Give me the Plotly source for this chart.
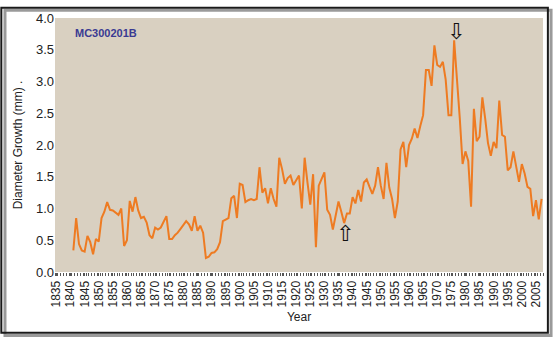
import plotly.graph_objects as go

# Annual diameter growth series for core MC300201B
years = list(range(1841, 2008))
growth_mm = [
    0.34, 0.85, 0.44, 0.34, 0.32, 0.57, 0.47, 0.28, 0.52, 0.48,   # 1841-1850
    0.85, 0.95, 1.10, 0.98, 0.97, 0.93, 0.90, 1.00, 0.41, 0.50,   # 1851-1860
    1.12, 0.95, 1.18, 0.97, 0.85, 0.87, 0.78, 0.58, 0.53, 0.70,   # 1861-1870
    0.67, 0.70, 0.80, 0.88, 0.52, 0.52, 0.58, 0.62, 0.68, 0.75,   # 1871-1880
    0.80, 0.75, 0.65, 0.88, 0.65, 0.73, 0.62, 0.22, 0.24, 0.30,   # 1881-1890
    0.31, 0.36, 0.47, 0.80, 0.83, 0.85, 1.16, 1.20, 0.85, 1.39,   # 1891-1900
    1.37, 1.10, 1.13, 1.15, 1.13, 1.15, 1.65, 1.25, 1.32, 1.08,   # 1901-1910
    1.32, 1.15, 1.03, 1.80, 1.62, 1.39, 1.48, 1.52, 1.37, 1.44,   # 1911-1920
    1.52, 1.00, 1.80, 1.41, 1.06, 1.54, 0.39, 1.36, 1.47, 1.57,   # 1921-1930
    0.98, 0.90, 0.67, 0.88, 1.11, 0.95, 0.77, 0.92, 0.92, 1.18,   # 1931-1940
    1.08, 1.29, 1.11, 1.41, 1.46, 1.34, 1.23, 1.36, 1.65, 1.36,   # 1941-1950
    1.15, 1.72, 1.33, 1.15, 0.85, 1.11, 1.93, 2.05, 1.65, 2.00,   # 1951-1960
    2.10, 2.26, 2.11, 2.30, 2.47, 3.18, 3.18, 2.93, 3.57, 3.26,   # 1961-1970
    3.23, 3.31, 3.03, 2.47, 2.47, 3.65, 3.08, 2.42, 1.70, 1.90,   # 1971-1980
    1.75, 1.03, 2.57, 2.06, 2.13, 2.75, 2.42, 2.03, 1.83, 2.05,   # 1981-1990
    1.95, 2.70, 2.16, 2.13, 1.60, 1.65, 1.90, 1.65, 1.42, 1.70,   # 1991-2000
    1.55, 1.34, 1.31, 0.88, 1.13, 0.83, 1.15,                     # 2001-2007
]

x_tick_years = list(range(1835, 2010, 5))
y_tick_values = [0.0, 0.5, 1.0, 1.5, 2.0, 2.5, 3.0, 3.5, 4.0]

# Marker arrows: (year, growth level, glyph)
arrow_marks = [(1937.4, 0.60, "\u21E7"), (1976.6, 3.78, "\u21E9")]

fig = go.Figure()
fig.add_trace(go.Scatter(
    x=years, y=growth_mm, mode="lines",
    line=dict(color="#ee7b22", width=2),
    hoverinfo="x+y", showlegend=False,
))

# Outer frame with drop shadow
shapes = [
    dict(type="rect", xref="paper", yref="paper",
         x0=-0.1025, x1=1.0165, y0=-0.2500, y1=1.0310,
         line=dict(color="#9a9a9a", width=3), layer="below"),
    dict(type="rect", xref="paper", yref="paper",
         x0=-0.1100, x1=1.0100, y0=-0.2390, y1=1.0400,
         line=dict(color="#1a1a1a", width=2), layer="below"),
]

annotations = [
    dict(text="<b>MC300201B</b>", xref="paper", yref="paper",
         x=0.036, y=0.94, xanchor="left", yanchor="middle", showarrow=False,
         font=dict(family="Arial, Liberation Sans", size=11, color="#3a3a92")),
]
for ax_year, ax_val, glyph in arrow_marks:
    annotations.append(dict(
        text=glyph, x=ax_year, y=ax_val, xref="x", yref="y",
        showarrow=False, xanchor="center", yanchor="middle",
        font=dict(family="DejaVu Sans", size=22, color="#111111"),
    ))

fig.update_layout(
    width=554, height=341,
    margin=dict(l=55, r=11, t=12, b=69),
    paper_bgcolor="#ffffff",
    plot_bgcolor="#d9d0c1",
    font=dict(family="Arial, Liberation Sans", color="#222222"),
    shapes=shapes,
    annotations=annotations,
)

fig.update_xaxes(
    range=[1834.5, 2007.5],
    tickmode="array", tickvals=x_tick_years,
    ticktext=[str(v) for v in x_tick_years],
    tickangle=-90, tickfont=dict(size=12, color="#222222"),
    ticks="outside", ticklen=3, tickcolor="#555555",
    minor=dict(dtick=1, tick0=1834.5, ticks="outside", ticklen=3, tickcolor="#555555"),
    showgrid=False, zeroline=False, showline=False,
    title=dict(text="Year", font=dict(size=12, color="#222222"), standoff=6),
)
fig.update_yaxes(
    range=[0, 4], tickmode="array", tickvals=y_tick_values,
    ticktext=[f"{v:.1f}" for v in y_tick_values],
    tickfont=dict(size=13, color="#222222"),
    showgrid=False, zeroline=False, showline=False, ticks="",
    title=dict(text="Diameter Growth (mm) .", font=dict(size=12, color="#222222"), standoff=10),
)

fig.write_html("out.html")
